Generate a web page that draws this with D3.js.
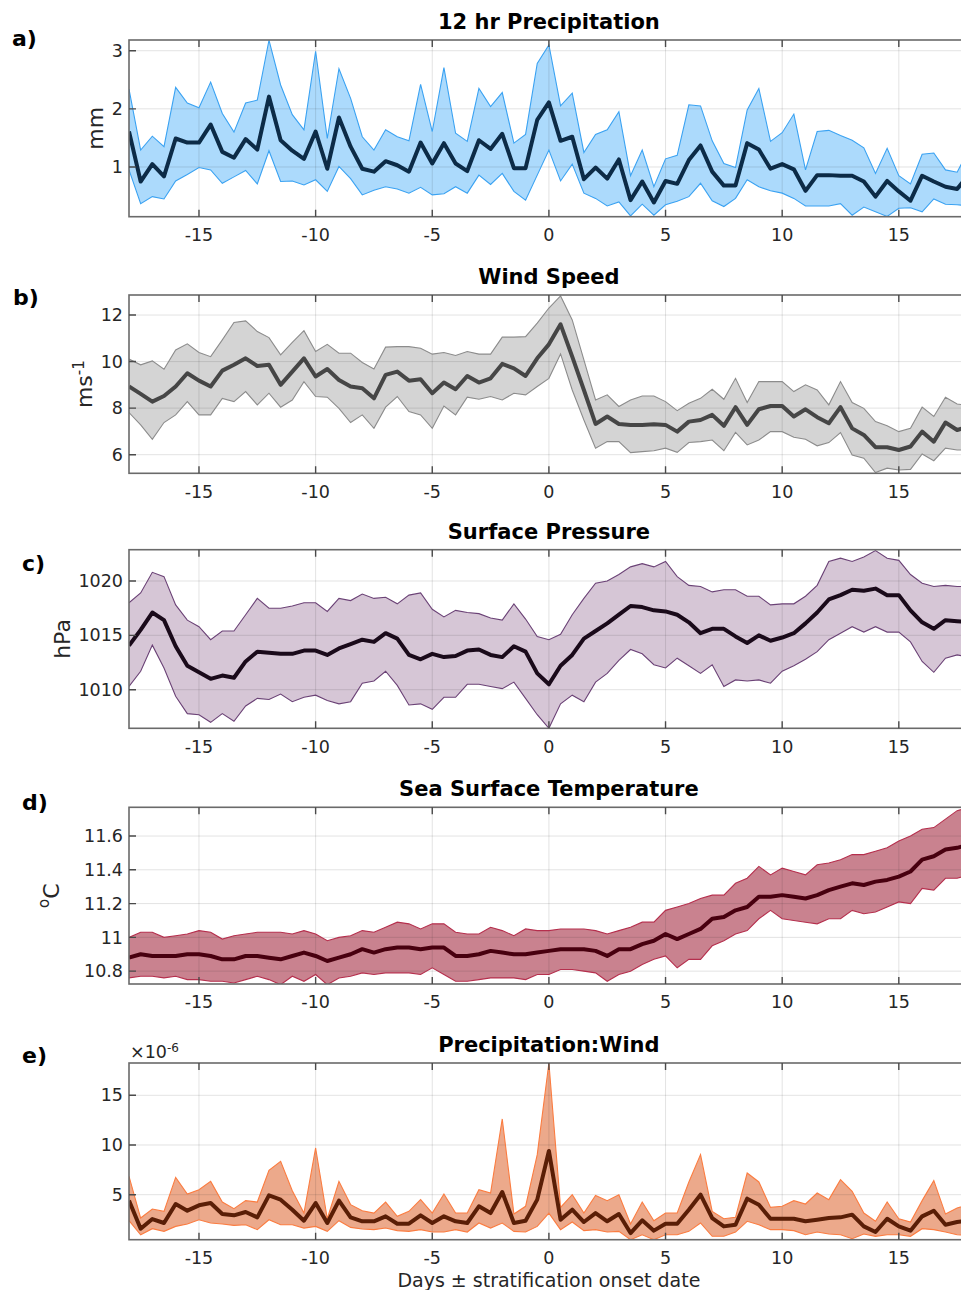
<!DOCTYPE html>
<html>
<head>
<meta charset="utf-8">
<script src="https://cdn.jsdelivr.net/npm/d3@7"></script>
<style>
  body { margin: 0; background: #fff; }
  svg { display: block; font-family: "DejaVu Sans", sans-serif; }
  .tick-label { fill: #262626; font-size: 17.5px; }
  .title { font-weight: bold; font-size: 21px; fill: #000; }
  .panel-label { font-weight: bold; font-size: 22px; fill: #000; }
  .axis-label { fill: #262626; font-size: 22px; }
  .x-title { fill: #262626; font-size: 19px; }
</style>
</head>
<body>
<div id="chart"></div>
<script>
// days relative to stratification onset (12 hr steps)
const days = [
  -18, -17.5, -17, -16.5, -16, -15.5, -15, -14.5, -14, -13.5, -13, -12.5, -12,
  -11.5, -11, -10.5, -10, -9.5, -9, -8.5, -8, -7.5, -7, -6.5, -6, -5.5, -5,
  -4.5, -4, -3.5, -3, -2.5, -2, -1.5, -1, -0.5, 0, 0.5, 1, 1.5, 2, 2.5, 3,
  3.5, 4, 4.5, 5, 5.5, 6, 6.5, 7, 7.5, 8, 8.5, 9, 9.5, 10, 10.5, 11, 11.5, 12,
  12.5, 13, 13.5, 14, 14.5, 15, 15.5, 16, 16.5, 17, 17.5, 18
];
const xTicks = [-15, -10, -5, 0, 5, 10, 15];

// a) 12 hr precipitation (mm)
const precipMean = [
  1.61, 0.75, 1.05, 0.84, 1.49, 1.42, 1.42, 1.73, 1.26, 1.16, 1.48, 1.30, 2.21,
  1.46, 1.28, 1.14, 1.61, 0.97, 1.85, 1.35, 0.97, 0.92, 1.10, 1.03, 0.92, 1.42,
  1.06, 1.41, 1.06, 0.93, 1.46, 1.31, 1.57, 0.98, 0.98, 1.81, 2.11,
  1.45, 1.52, 0.79, 0.99, 0.80, 1.13, 0.43, 0.75, 0.39, 0.76, 0.71, 1.12, 1.37,
  0.92, 0.68, 0.68, 1.41, 1.30, 0.97, 1.05, 0.96, 0.59, 0.86, 0.86, 0.85, 0.85,
  0.75, 0.49, 0.76, 0.58, 0.42, 0.85, 0.75, 0.66, 0.62, 0.87
];
const precipUpper = [
  2.34, 1.29, 1.53, 1.35, 2.37, 2.10, 2.02, 2.46, 1.92, 1.60, 2.10, 2.15, 3.18,
  2.41, 1.90, 1.64, 2.99, 1.49, 2.69, 2.18, 1.52, 1.29, 1.64, 1.52, 1.45, 2.42,
  1.61, 2.71, 1.58, 1.44, 2.35, 2.04, 2.28, 1.41, 1.56, 2.78, 3.10,
  2.05, 2.27, 1.25, 1.56, 1.64, 1.95, 0.85, 1.29, 0.66, 1.14, 1.20, 2.07, 2.05,
  1.45, 1.06, 0.99, 1.98, 2.35, 1.44, 1.59, 1.91, 0.95, 1.61, 1.63, 1.54, 1.46,
  1.33, 0.89, 1.32, 0.85, 0.71, 1.22, 1.24, 0.95, 0.91, 1.30
];
const precipLower = [
  0.95, 0.37, 0.49, 0.45, 0.76, 0.87, 0.99, 0.95, 0.72, 0.83, 0.94, 0.71, 1.28,
  0.75, 0.76, 0.69, 0.78, 0.58, 1.01, 0.80, 0.52, 0.60, 0.66, 0.62, 0.55, 0.65,
  0.52, 0.54, 0.66, 0.55, 0.86, 0.70, 0.89, 0.58, 0.43, 0.86, 1.29,
  0.76, 1.05, 0.55, 0.46, 0.33, 0.40, 0.16, 0.36, 0.17, 0.35, 0.41, 0.49, 0.72,
  0.42, 0.32, 0.46, 0.78, 0.66, 0.59, 0.55, 0.46, 0.33, 0.33, 0.33, 0.37, 0.17,
  0.31, 0.23, 0.15, 0.29, 0.30, 0.23, 0.45, 0.36, 0.35, 0.33
];

// b) wind speed (m s-1)
const windMean = [
  8.93, 8.61, 8.28, 8.52, 8.93, 9.50, 9.18, 8.93, 9.61, 9.86, 10.14, 9.81, 9.86,
  9.00, 9.57, 10.14, 9.36, 9.68, 9.21, 8.93, 8.85, 8.42, 9.43, 9.57, 9.18, 9.24,
  8.64, 9.10, 8.81, 9.38, 9.10, 9.28, 9.90, 9.71, 9.38, 10.14, 10.74,
  11.60, 10.21, 8.78, 7.32, 7.64, 7.32, 7.28, 7.28, 7.31, 7.28, 6.99, 7.42, 7.49,
  7.71, 7.24, 8.04, 7.28, 7.95, 8.09, 8.09, 7.64, 7.95, 7.61, 7.35, 8.04, 7.13,
  6.85, 6.32, 6.32, 6.20, 6.35, 6.99, 6.56, 7.38, 7.06, 7.20
];
const windUpper = [
  10.11, 9.86, 10.03, 9.67, 10.50, 10.76, 10.39, 10.21, 10.93, 11.68, 11.75,
  11.29, 11.03, 10.29, 10.82, 11.33, 10.43, 10.74, 10.36, 10.36, 9.96, 9.68,
  10.62, 10.64, 10.64, 10.57, 10.32, 10.39, 10.26, 10.43, 10.32, 10.32, 11.05,
  11.05, 11.07, 11.65, 12.30,
  12.82, 11.79, 10.07, 8.35, 8.57, 8.07, 8.35, 8.52, 8.52, 8.28, 7.89, 8.21, 8.42,
  8.81, 8.38, 9.28, 8.24, 9.14, 9.14, 9.14, 8.71, 9.00, 8.78, 8.14, 9.14, 8.24,
  7.99, 7.42, 7.24, 6.99, 7.13, 8.04, 7.64, 8.47, 8.18, 8.10
];
const windLower = [
  7.81, 7.28, 6.66, 7.38, 7.71, 8.28, 7.71, 7.71, 8.42, 8.28, 8.71, 8.14, 8.64,
  8.04, 8.35, 9.14, 8.50, 8.47, 7.99, 7.38, 7.71, 7.13, 8.04, 8.50, 7.85, 7.71,
  7.13, 8.09, 7.71, 8.47, 8.38, 8.50, 8.35, 8.64, 8.57, 8.93, 9.28,
  10.33, 8.78, 7.49, 6.28, 6.56, 6.56, 6.09, 6.13, 6.17, 6.28, 6.10, 6.52, 6.56,
  6.63, 6.17, 6.96, 6.42, 6.63, 6.99, 6.99, 6.75, 6.66, 6.38, 6.52, 6.95, 5.99,
  5.85, 5.23, 5.42, 5.34, 5.37, 6.03, 5.74, 6.28, 6.20, 6.20
];

// c) surface pressure (hPa)
const pressMean = [
  1014.05, 1015.5, 1017.1, 1016.4, 1014.0, 1012.2, 1011.6, 1011.0, 1011.3,
  1011.1, 1012.6, 1013.5, 1013.4, 1013.3, 1013.3, 1013.6, 1013.6, 1013.2,
  1013.8, 1014.2, 1014.6, 1014.4, 1015.2, 1014.7, 1013.2, 1012.8, 1013.3,
  1013.0, 1013.1, 1013.6, 1013.7, 1013.2, 1013.0, 1014.0, 1013.5, 1011.5, 1010.5,
  1012.2, 1013.2, 1014.7, 1015.4, 1016.1, 1016.9, 1017.7, 1017.6, 1017.3,
  1017.2, 1016.9, 1016.2, 1015.2, 1015.6, 1015.6, 1014.9, 1014.3, 1015.0,
  1014.5, 1014.8, 1015.2, 1016.1, 1017.1, 1018.3, 1018.7, 1019.2, 1019.1,
  1019.3, 1018.7, 1018.7, 1017.3, 1016.2, 1015.6, 1016.4, 1016.3, 1016.2
];
const pressUpper = [
  1018.0, 1018.9, 1020.8, 1020.4, 1017.8, 1016.4, 1015.8, 1014.6, 1015.4,
  1015.4, 1016.9, 1018.4, 1017.5, 1017.5, 1017.7, 1018.0, 1018.0, 1017.2,
  1018.4, 1018.2, 1018.8, 1018.4, 1018.5, 1017.9, 1018.7, 1018.9, 1017.4,
  1016.7, 1017.3, 1017.1, 1017.0, 1016.6, 1016.4, 1017.9, 1016.5, 1014.9, 1014.6,
  1015.1, 1016.9, 1018.4, 1019.8, 1020.0, 1020.6, 1021.3, 1021.6, 1021.3,
  1021.8, 1020.4, 1019.6, 1019.5, 1019.0, 1019.2, 1019.2, 1018.6, 1018.6,
  1017.8, 1017.9, 1017.9, 1018.6, 1019.6, 1021.8, 1022.1, 1021.8, 1022.2,
  1022.8, 1022.1, 1021.9, 1020.6, 1019.8, 1019.5, 1019.6, 1019.5, 1019.5
];
const pressLower = [
  1010.3, 1011.7, 1014.1, 1012.0, 1009.4, 1007.8, 1007.7, 1007.0, 1007.8,
  1007.1, 1008.5, 1009.2, 1009.1, 1009.6, 1008.9, 1009.3, 1009.5, 1009.0,
  1008.7, 1008.9, 1010.6, 1010.8, 1011.7, 1010.4, 1008.6, 1008.7, 1008.2,
  1009.3, 1009.3, 1010.5, 1010.5, 1010.3, 1010.1, 1010.7, 1009.2, 1007.7, 1006.45,
  1008.7, 1009.5, 1008.9, 1010.7, 1011.5, 1012.7, 1013.7, 1013.3, 1012.3,
  1012.0, 1012.9, 1012.2, 1011.5, 1012.3, 1010.3, 1010.9, 1010.8, 1010.9,
  1010.6, 1011.7, 1012.2, 1012.8, 1013.5, 1014.6, 1015.2, 1015.8, 1015.3,
  1015.8, 1015.3, 1015.3, 1014.4, 1012.6, 1011.6, 1012.9, 1013.2, 1013.0
];

// d) sea surface temperature (deg C)
const sstMean = [
  10.88, 10.90, 10.89, 10.89, 10.89, 10.90, 10.90, 10.89, 10.87, 10.87, 10.89,
  10.89, 10.88, 10.87, 10.89, 10.91, 10.89, 10.86, 10.88, 10.90, 10.93, 10.91,
  10.93, 10.94, 10.94, 10.93, 10.94, 10.94, 10.89, 10.89, 10.90, 10.92, 10.91,
  10.90, 10.90, 10.91, 10.92,
  10.93, 10.93, 10.93, 10.92, 10.89, 10.93, 10.93, 10.96, 10.98, 11.02, 10.99,
  11.02, 11.05, 11.11, 11.12, 11.16, 11.18, 11.24, 11.24, 11.25, 11.24, 11.23,
  11.25, 11.28, 11.30, 11.32, 11.31, 11.33, 11.34, 11.36, 11.39, 11.46, 11.48,
  11.52, 11.53, 11.55
];
const sstUpper = [
  11.00, 11.03, 11.03, 11.00, 11.01, 11.02, 11.04, 11.03, 10.99, 11.01, 11.02,
  11.03, 11.03, 11.03, 11.02, 11.04, 11.02, 10.98, 11.00, 11.01, 11.04, 11.03,
  11.06, 11.09, 11.08, 11.05, 11.08, 11.08, 11.03, 11.02, 11.02, 11.06, 11.04,
  11.01, 11.05, 11.04, 11.04,
  11.05, 11.05, 11.05, 11.04, 11.02, 11.04, 11.06, 11.09, 11.09, 11.16, 11.18,
  11.20, 11.23, 11.25, 11.25, 11.32, 11.35, 11.42, 11.37, 11.41, 11.39, 11.37,
  11.43, 11.44, 11.46, 11.49, 11.49, 11.51, 11.53, 11.57, 11.60, 11.64, 11.65,
  11.70, 11.75, 11.77
];
const sstLower = [
  10.76, 10.77, 10.77, 10.76, 10.77, 10.75, 10.75, 10.74, 10.74, 10.73, 10.75,
  10.77, 10.75, 10.72, 10.77, 10.74, 10.78, 10.72, 10.76, 10.77, 10.79, 10.78,
  10.79, 10.79, 10.79, 10.78, 10.82, 10.78, 10.74, 10.74, 10.75, 10.76, 10.76,
  10.76, 10.75, 10.78, 10.78,
  10.81, 10.81, 10.80, 10.79, 10.74, 10.78, 10.80, 10.84, 10.87, 10.89, 10.82,
  10.87, 10.87, 10.95, 10.98, 11.02, 11.04, 11.11, 11.16, 11.11, 11.10, 11.09,
  11.08, 11.11, 11.11, 11.16, 11.14, 11.15, 11.18, 11.21, 11.20, 11.29, 11.28,
  11.35, 11.35, 11.37
];

// e) precipitation:wind (x 10^-6)
const ratioMean = [
  4.40, 1.58, 2.55, 2.15, 4.06, 3.39, 3.93, 4.16, 3.05, 2.92, 3.26, 2.72, 4.93,
  4.50, 3.49, 2.38, 4.16, 2.15, 4.40, 2.72, 2.32, 2.32, 2.82, 2.08, 2.08, 2.92,
  2.15, 2.82, 2.32, 2.15, 3.83, 3.15, 5.27, 2.15, 2.38, 4.50, 9.40,
  2.48, 3.49, 2.25, 3.15, 2.32, 3.05, 1.14, 2.42, 1.38, 2.08, 2.08, 3.49, 5.00,
  2.65, 1.81, 1.98, 4.60, 3.99, 2.58, 2.58, 2.58, 2.32, 2.48, 2.65, 2.72, 2.99,
  1.81, 1.24, 2.58, 1.81, 1.38, 2.82, 3.39, 1.98, 2.25, 2.40
];
const ratioUpper = [
  6.85, 2.65, 3.56, 3.32, 6.74, 5.07, 5.50, 6.34, 4.26, 3.59, 4.40, 4.26, 7.45,
  8.36, 5.40, 3.15, 9.70, 2.58, 6.34, 4.00, 3.39, 3.15, 4.26, 2.82, 3.32, 4.50,
  3.15, 5.07, 3.15, 3.15, 5.50, 5.17, 12.62, 3.05, 3.83, 9.03, 18.25,
  3.72, 5.00, 3.15, 4.93, 4.40, 5.00, 2.05, 4.26, 2.38, 3.15, 3.15, 6.28, 9.03,
  3.32, 2.58, 2.72, 7.18, 6.28, 3.72, 3.83, 4.40, 4.06, 5.17, 4.50, 6.51, 5.34,
  3.15, 2.32, 4.26, 2.58, 2.25, 4.40, 6.41, 3.05, 3.66, 4.00
];
const ratioLower = [
  2.38, 0.97, 1.58, 1.31, 1.81, 2.05, 2.48, 2.15, 2.05, 1.91, 1.98, 1.48, 2.48,
  1.98, 1.98, 1.64, 1.81, 1.31, 2.38, 1.71, 1.54, 1.48, 1.64, 1.38, 1.31, 1.48,
  1.24, 1.24, 1.48, 1.24, 2.15, 1.64, 2.15, 1.31, 1.24, 1.81, 3.15,
  1.48, 2.25, 1.38, 1.48, 1.24, 1.31, 0.47, 0.97, 0.47, 0.97, 0.97, 1.31, 2.15,
  0.81, 0.81, 1.24, 2.32, 1.98, 1.48, 1.48, 1.38, 0.97, 1.24, 1.04, 0.97, 0.57,
  1.04, 0.81, 0.97, 0.97, 0.81, 1.58, 1.48, 1.24, 0.97, 0.90
];

// dimensions
const WIDTH = 961;
const HEIGHT = 1290;
const LEFT = 129;
const RIGHT = 968.8; // axis box runs past the cropped edge of the figure
const TICK_LEN = 7;

const panels = [
  {
    key: "a", title: "12 hr Precipitation", top: 40, bottom: 216.7,
    domain: [0.145, 3.184], yTicks: [1, 2, 3],
    mean: precipMean, upper: precipUpper, lower: precipLower,
    fill: "#acdafc", edge: "#3aa2f2", line: "#0c2b47",
    label: { x: 12, y: 46 }, yLabel: { text: "mm", x: 95 }
  },
  {
    key: "b", title: "Wind Speed", top: 295, bottom: 473.3,
    domain: [5.2, 12.86], yTicks: [6, 8, 10, 12],
    mean: windMean, upper: windUpper, lower: windLower,
    fill: "#d4d4d4", edge: "#8c8c8c", line: "#464646",
    label: { x: 13, y: 305 }, yLabel: { text: "ms", sup: "-1", x: 84 }
  },
  {
    key: "c", title: "Surface Pressure", top: 549.7, bottom: 728.3,
    domain: [1006.45, 1022.88], yTicks: [1010, 1015, 1020],
    mean: pressMean, upper: pressUpper, lower: pressLower,
    fill: "#d6c6d6", edge: "#6b4276", line: "#1a0a1a",
    label: { x: 22, y: 571 }, yLabel: { text: "hPa", x: 62 }
  },
  {
    key: "d", title: "Sea Surface Temperature", top: 807.3, bottom: 984,
    domain: [10.724, 11.77], yTicks: [10.8, 11, 11.2, 11.4, 11.6],
    mean: sstMean, upper: sstUpper, lower: sstLower,
    fill: "#c9828f", edge: "#b52f4d", line: "#48000f",
    label: { x: 22, y: 810 }, yLabel: { pre: "o", text: "C", x: 56 }
  },
  {
    key: "e", title: "Precipitation:Wind", top: 1063, bottom: 1239.7,
    domain: [0.47, 18.25], yTicks: [5, 10, 15],
    mean: ratioMean, upper: ratioUpper, lower: ratioLower,
    fill: "#eca98b", edge: "#fb7c40", line: "#5a1e06",
    label: { x: 22, y: 1063 }, yLabel: null
  }
];

const scaleX = d3.scaleLinear().domain([-18, 18]).range([LEFT, RIGHT]);

const $svg = d3.select("#chart")
  .append("svg")
  .attr("width", WIDTH)
  .attr("height", HEIGHT);

$svg.append("rect")
  .attr("width", WIDTH)
  .attr("height", HEIGHT)
  .attr("fill", "#fff");

const $defs = $svg.append("defs");

function drawPanel(p) {
  const scaleY = d3.scaleLinear().domain(p.domain).range([p.bottom, p.top]);
  const rows = days.map((d, i) => ({
    day: d, mean: p.mean[i], upper: p.upper[i], lower: p.lower[i]
  }));

  $defs.append("clipPath")
    .attr("id", `clip-${p.key}`)
    .append("rect")
    .attr("x", LEFT)
    .attr("y", p.top)
    .attr("width", RIGHT - LEFT)
    .attr("height", p.bottom - p.top);

  const $g = $svg.append("g").attr("class", `panel panel-${p.key}`);
  const $plot = $g.append("g").attr("clip-path", `url(#clip-${p.key})`);

  // shaded spread
  const area = d3.area()
    .x(d => scaleX(d.day))
    .y0(d => scaleY(d.lower))
    .y1(d => scaleY(d.upper));
  $plot.append("path")
    .datum(rows)
    .attr("d", area)
    .attr("fill", p.fill);

  // grid
  $plot.selectAll(".grid-x")
    .data(xTicks)
    .join("line")
    .attr("class", "grid-x")
    .attr("x1", d => scaleX(d)).attr("x2", d => scaleX(d))
    .attr("y1", p.top).attr("y2", p.bottom)
    .attr("stroke", "rgba(38,38,38,0.13)")
    .attr("stroke-width", 1);
  $plot.selectAll(".grid-y")
    .data(p.yTicks)
    .join("line")
    .attr("class", "grid-y")
    .attr("x1", LEFT).attr("x2", RIGHT)
    .attr("y1", d => scaleY(d)).attr("y2", d => scaleY(d))
    .attr("stroke", "rgba(38,38,38,0.13)")
    .attr("stroke-width", 1);

  // spread edges
  ["upper", "lower"].forEach(k => {
    $plot.append("path")
      .datum(rows)
      .attr("d", d3.line().x(d => scaleX(d.day)).y(d => scaleY(d[k])))
      .attr("fill", "none")
      .attr("stroke", p.edge)
      .attr("stroke-width", 1.1);
  });

  // mean
  $plot.append("path")
    .datum(rows)
    .attr("d", d3.line().x(d => scaleX(d.day)).y(d => scaleY(d.mean)))
    .attr("fill", "none")
    .attr("stroke", p.line)
    .attr("stroke-width", 4)
    .attr("stroke-linejoin", "round");

  // frame + inward ticks
  $g.append("rect")
    .attr("x", LEFT).attr("y", p.top)
    .attr("width", RIGHT - LEFT).attr("height", p.bottom - p.top)
    .attr("fill", "none")
    .attr("stroke", "#6a6a6a")
    .attr("stroke-width", 1.6);

  const tickPath = [];
  xTicks.forEach(t => {
    const x = scaleX(t);
    tickPath.push(`M${x},${p.bottom}v${-TICK_LEN}`, `M${x},${p.top}v${TICK_LEN}`);
  });
  p.yTicks.forEach(t => {
    const y = scaleY(t);
    tickPath.push(`M${LEFT},${y}h${TICK_LEN}`, `M${RIGHT},${y}h${-TICK_LEN}`);
  });
  $g.append("path")
    .attr("d", tickPath.join(""))
    .attr("stroke", "#4a4a4a")
    .attr("stroke-width", 1.4);

  // tick labels
  $g.selectAll(".x-label")
    .data(xTicks)
    .join("text")
    .attr("class", "tick-label x-label")
    .attr("x", d => scaleX(d))
    .attr("y", p.bottom + 12)
    .attr("dy", "0.71em")
    .attr("text-anchor", "middle")
    .text(d => String(d));
  $g.selectAll(".y-label")
    .data(p.yTicks)
    .join("text")
    .attr("class", "tick-label y-label")
    .attr("x", LEFT - 6)
    .attr("y", d => scaleY(d))
    .attr("dy", "0.35em")
    .attr("text-anchor", "end")
    .text(d => String(d));

  // title and panel letter
  $g.append("text")
    .attr("class", "title")
    .attr("x", (LEFT + RIGHT) / 2)
    .attr("y", p.top - 11)
    .attr("text-anchor", "middle")
    .text(p.title);
  $g.append("text")
    .attr("class", "panel-label")
    .attr("x", p.label.x)
    .attr("y", p.label.y)
    .text(`${p.key})`);

  // y axis label
  if (p.yLabel) {
    const cy = (p.top + p.bottom) / 2;
    const $t = $g.append("text")
      .attr("class", "axis-label")
      .attr("text-anchor", "middle")
      .attr("transform", `translate(${p.yLabel.x},${cy}) rotate(-90)`)
      .attr("dy", "0.35em");
    if (p.yLabel.pre) {
      $t.append("tspan").attr("font-size", 15).attr("dy", "-0.45em").text(p.yLabel.pre);
      $t.append("tspan").attr("dy", "0.45em").text(p.yLabel.text);
    } else {
      $t.append("tspan").text(p.yLabel.text);
    }
    if (p.yLabel.sup) {
      $t.append("tspan").attr("font-size", 15).attr("dy", "-0.5em").text(p.yLabel.sup);
    }
  }
}

panels.forEach(drawPanel);

// exponent note for panel e
const $exp = $svg.append("text")
  .attr("class", "tick-label")
  .attr("x", 130)
  .attr("y", 1058)
  .attr("font-size", 15);
$exp.append("tspan").text("\u00d710");
$exp.append("tspan").attr("font-size", 12).attr("dy", "-0.5em").text("-6");

// x axis title
$svg.append("text")
  .attr("class", "x-title")
  .attr("x", (LEFT + RIGHT) / 2)
  .attr("y", 1287)
  .attr("text-anchor", "middle")
  .text("Days \u00b1 stratification onset date");
</script>
</body>
</html>
